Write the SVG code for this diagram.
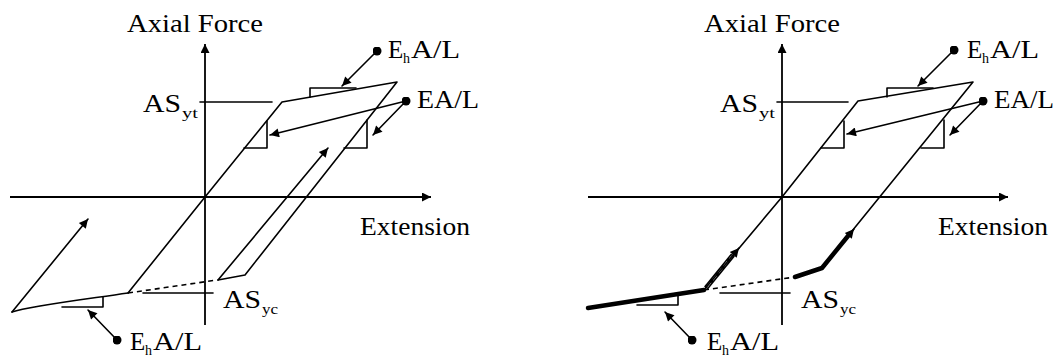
<svg xmlns="http://www.w3.org/2000/svg" width="1059" height="358" viewBox="0 0 1059 358">
<style>
.ln{fill:none;stroke:#000;stroke-width:1.6;stroke-linecap:round;stroke-linejoin:round}
.ax{fill:none;stroke:#000;stroke-width:1.8}
.th{fill:none;stroke:#000;stroke-width:4.5;stroke-linecap:round;stroke-linejoin:round}
.ds{fill:none;stroke:#000;stroke-width:1.6;stroke-dasharray:5 4}
.t{font-family:"Liberation Serif",serif;font-size:25px;fill:#000}
.s{font-family:"Liberation Serif",serif;font-size:14px;fill:#000}
</style>
<defs>
<marker id="ah" viewBox="0 0 10 10" refX="10" refY="5" markerWidth="13" markerHeight="9" markerUnits="userSpaceOnUse" orient="auto">
<path d="M0,0 L10,5 L0,10 z" fill="#000"/>
</marker>
<marker id="dot" viewBox="0 0 10 10" refX="5" refY="5" markerWidth="9" markerHeight="9" markerUnits="userSpaceOnUse">
<circle cx="5" cy="5" r="5" fill="#000"/>
</marker>
</defs>
<rect width="1059" height="358" fill="#fff"/>

<!-- LEFT PANEL -->
<g id="left-axes">
<line class="ax" x1="205" y1="325" x2="205" y2="44" marker-end="url(#ah)"/>
<line class="ax" x1="10" y1="197" x2="431" y2="197" marker-end="url(#ah)"/>
<text class="t" x="127" y="32" textLength="136" lengthAdjust="spacingAndGlyphs">Axial Force</text>
<text class="t" x="360" y="235" textLength="110" lengthAdjust="spacingAndGlyphs">Extension</text>
</g>
<g id="left-asyt">
<line class="ln" x1="200" y1="102" x2="272" y2="102"/>
<text class="t" x="143" y="112" textLength="38" lengthAdjust="spacingAndGlyphs">AS</text>
<text class="s" x="182" y="118" textLength="16" lengthAdjust="spacingAndGlyphs">yt</text>
</g>
<g id="left-asyc">
<line class="ln" x1="143" y1="293" x2="213" y2="293"/>
<text class="t" x="223" y="308" textLength="38" lengthAdjust="spacingAndGlyphs">AS</text>
<text class="s" x="262" y="314" textLength="16" lengthAdjust="spacingAndGlyphs">yc</text>
</g>
<g id="left-curve">
<polyline class="ln" points="128,293 205,197 282,102 397,82 245,275 218,280"/>
<path class="ln" d="M12,312 C30,306 80,300 128,293"/>
<line class="ds" x1="128" y1="293" x2="217" y2="280"/>
<polyline class="ln" points="310,97 310,88 356,88"/>
<polyline class="ln" points="267,121 267,148 244,148"/>
<polyline class="ln" points="367,120 367,148 344,148"/>
<polyline class="ln" points="103,297 103,307 62,307"/>
</g>
<g id="left-connectors">
<line class="ln" x1="218" y1="280" x2="328" y2="148" marker-end="url(#ah)"/>
<line class="ln" x1="12" y1="312" x2="88" y2="219" marker-end="url(#ah)"/>
<line class="ln" x1="377" y1="51" x2="342" y2="86" marker-start="url(#dot)" marker-end="url(#ah)"/>
<line class="ln" x1="406" y1="101" x2="270" y2="135" marker-start="url(#dot)" marker-end="url(#ah)"/>
<line class="ln" x1="406" y1="101" x2="373" y2="135" marker-end="url(#ah)"/>
<line class="ln" x1="117" y1="340" x2="88" y2="310" marker-start="url(#dot)" marker-end="url(#ah)"/>
</g>
<g id="left-labels">
<text class="t" x="388" y="58">E</text><text class="s" x="403" y="63">h</text><text class="t" x="411" y="58" textLength="49" lengthAdjust="spacingAndGlyphs">A/L</text>
<text class="t" x="417" y="108" textLength="62" lengthAdjust="spacingAndGlyphs">EA/L</text>
<text class="t" x="130" y="350">E</text><text class="s" x="145" y="355">h</text><text class="t" x="153" y="350" textLength="49" lengthAdjust="spacingAndGlyphs">A/L</text>
</g>

<!-- RIGHT PANEL -->
<g id="right-axes">
<line class="ax" x1="782" y1="325" x2="782" y2="44" marker-end="url(#ah)"/>
<line class="ax" x1="588" y1="197" x2="1008" y2="197" marker-end="url(#ah)"/>
<text class="t" x="704" y="32" textLength="136" lengthAdjust="spacingAndGlyphs">Axial Force</text>
<text class="t" x="938" y="235" textLength="110" lengthAdjust="spacingAndGlyphs">Extension</text>
</g>
<g id="right-asyt">
<line class="ln" x1="777" y1="102" x2="848" y2="102"/>
<text class="t" x="720" y="112" textLength="38" lengthAdjust="spacingAndGlyphs">AS</text>
<text class="s" x="759" y="118" textLength="16" lengthAdjust="spacingAndGlyphs">yt</text>
</g>
<g id="right-asyc">
<line class="ln" x1="720" y1="293" x2="790" y2="293"/>
<text class="t" x="801" y="308" textLength="38" lengthAdjust="spacingAndGlyphs">AS</text>
<text class="s" x="840" y="314" textLength="16" lengthAdjust="spacingAndGlyphs">yc</text>
</g>
<g id="right-curve">
<polyline class="ln" points="704,290 782,197 858,101 973,82 822,268"/>
<line class="ds" x1="704" y1="290" x2="795" y2="277"/>
<polyline class="th" points="588,308 704,290"/>
<polyline class="th" points="795,277 822,268 848,236"/>
<line x1="706" y1="288" x2="733" y2="255" stroke="#000" stroke-width="5"/>
<line x1="707" y1="287" x2="732" y2="256" stroke="#fff" stroke-width="1.6" stroke-dasharray="6 3"/>
<polyline class="ln" points="887,97 887,88 933,88"/>
<polyline class="ln" points="844,121 844,148 821,148"/>
<polyline class="ln" points="944,120 944,148 921,148"/>
<polyline class="ln" points="678,296 678,305 637,305"/>
</g>
<g id="right-connectors">
<line class="ln" x1="704" y1="290" x2="739" y2="248" marker-end="url(#ah)"/>
<line class="ln" x1="822" y1="268" x2="854" y2="229" marker-end="url(#ah)"/>
<line class="ln" x1="954" y1="50" x2="918" y2="86" marker-start="url(#dot)" marker-end="url(#ah)"/>
<line class="ln" x1="983" y1="101" x2="847" y2="134" marker-start="url(#dot)" marker-end="url(#ah)"/>
<line class="ln" x1="983" y1="101" x2="950" y2="135" marker-end="url(#ah)"/>
<line class="ln" x1="692" y1="340" x2="665" y2="312" marker-start="url(#dot)" marker-end="url(#ah)"/>
</g>
<g id="right-labels">
<text class="t" x="967" y="58">E</text><text class="s" x="982" y="63">h</text><text class="t" x="990" y="58" textLength="49" lengthAdjust="spacingAndGlyphs">A/L</text>
<text class="t" x="994" y="108" textLength="60" lengthAdjust="spacingAndGlyphs">EA/L</text>
<text class="t" x="707" y="350">E</text><text class="s" x="722" y="355">h</text><text class="t" x="730" y="350" textLength="49" lengthAdjust="spacingAndGlyphs">A/L</text>
</g>
</svg>
